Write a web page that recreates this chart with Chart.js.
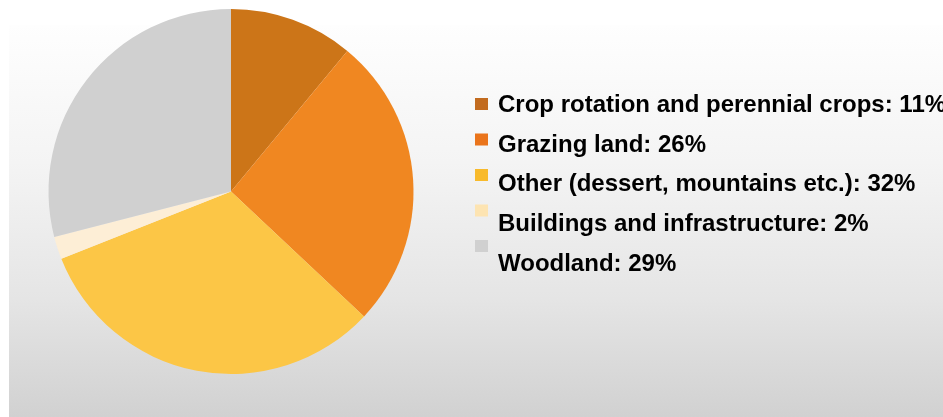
<!DOCTYPE html>
<html>
<head>
<meta charset="utf-8">
<script src="https://cdn.jsdelivr.net/npm/chart.js@4"></script>
<style>
  html, body { margin: 0; padding: 0; background: #fff; overflow: hidden; }
  canvas { display: block; }
</style>
</head>
<body>
<canvas id="chart" width="943" height="417"></canvas>
<script>
// ================= DATA =================
const categories = [
    "Crop rotation and perennial crops",
    "Grazing land",
    "Other (dessert, mountains etc.)",
    "Buildings and infrastructure",
    "Woodland"
];
const shares = [11, 26, 32, 2, 29];
const sliceColors = ["#cc7518", "#f08721", "#fcc646", "#fdeed6", "#d0d0d0"];
const keyColors   = ["#c26b1f", "#ea741b", "#f8ba2b", "#fde4b2", "#d0d0d0"];

// ================= PLUGINS =================
// grey slide background behind the pie
const backdrop = {
    id: "backdrop",
    beforeDraw(chart){
        const ctx = chart.ctx;
        const w = chart.width, h = chart.height;
        ctx.save();
        ctx.fillStyle = "#ffffff";
        ctx.fillRect(0, 0, w, h);
        const g = ctx.createLinearGradient(0, 25, 0, h);
        g.addColorStop(0, "#fefefe");
        g.addColorStop(0.35, "#f4f4f4");
        g.addColorStop(0.7, "#e5e5e5");
        g.addColorStop(1, "#d1d1d1");
        ctx.fillStyle = g;
        ctx.fillRect(9, 25, w - 9, h - 25);
        ctx.restore();
    }
};

// legend to the right, square keys slightly tighter than the text rows
const sideLegend = {
    id: "sideLegend",
    afterDraw(chart){
        const ctx = chart.ctx;
        const labels = chart.data.labels;
        ctx.save();
        ctx.font = "bold 24px 'Liberation Sans', Arial, sans-serif";
        ctx.textBaseline = "alphabetic";
        ctx.textAlign = "left";
        labels.forEach((lab, i) => {
            const val = chart.data.datasets[0].data[i];
            const sy = 98 + i * 35.5;
            ctx.fillStyle = keyColors[i];
            ctx.fillRect(475, sy, 13, 12);
            ctx.fillStyle = "#000";
            ctx.fillText(lab + ": " + val + "%", 498, 112 + i * 39.7);
        });
        ctx.restore();
    }
};

// ================= CHART =================
new Chart(document.getElementById("chart").getContext("2d"), {
    type: "pie",
    data: {
        labels: categories,
        datasets: [{
            data: shares,
            backgroundColor: sliceColors,
            borderWidth: 0
        }]
    },
    options: {
        responsive: false,
        animation: false,
        devicePixelRatio: 1,
        layout: { padding: { left: 48, right: 529, top: 9, bottom: 43 } },
        plugins: {
            legend: { display: false },
            tooltip: { enabled: false }
        },
        events: []
    },
    plugins: [backdrop, sideLegend]
});
</script>
</body>
</html>
